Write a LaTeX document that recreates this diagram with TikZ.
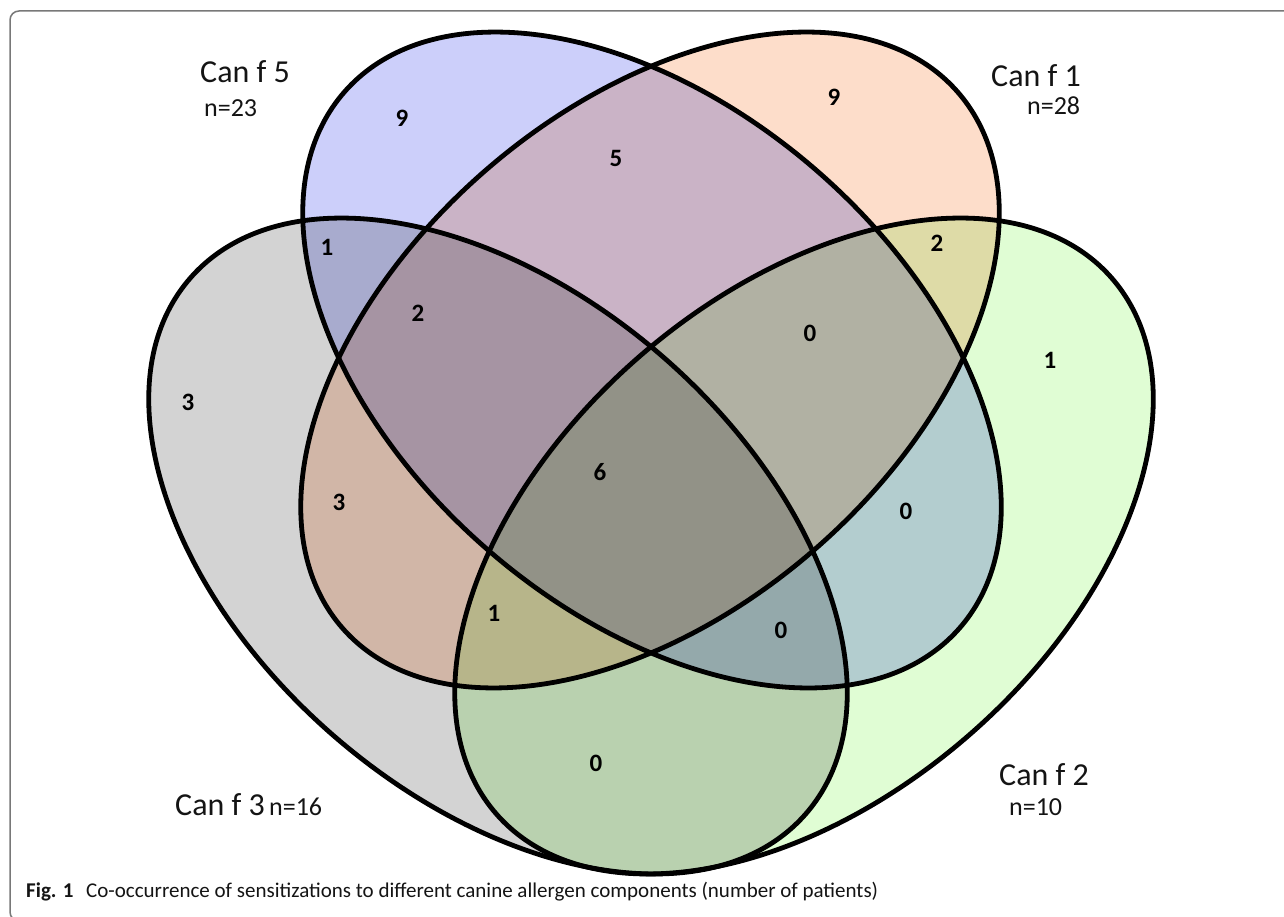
\documentclass[tikz,border=0pt]{standalone}
\usepackage{fontspec}
\setmainfont{Carlito}
\newfontfamily\capfont{Carlito}
\usepackage{graphicx}
\definecolor{fblue}{RGB}{204,207,250}
\definecolor{forange}{RGB}{253,221,202}
\definecolor{fgrey}{RGB}{211,211,211}
\definecolor{fgreen}{RGB}{224,253,212}
\definecolor{framegray}{RGB}{120,120,120}
\definecolor{txt}{RGB}{20,20,20}
\begin{document}
\begin{tikzpicture}[x=1pt,y=-1pt,
  setfill/.style={blend mode=multiply},
  outline/.style={draw=black,line width=4.8pt},
  lab/.style={font=\fontsize{32}{32}\selectfont, anchor=base west, inner sep=0pt, text=txt},
  nlab/.style={font=\fontsize{26}{26}\selectfont, anchor=base west, inner sep=0pt, text=txt},
  num/.style={font=\bfseries\fontsize{25}{25}\selectfont, inner sep=0pt, text=black}]
\useasboundingbox (0,0) rectangle (1284,917);
\clip (0,0) rectangle (1284,917);
\fill[white] (0,0) rectangle (1284,917);
\draw[framegray, line width=1.5pt, rounded corners=9pt] (10,11) rectangle (1300,921);
% centres of the four sets
\coordinate (c5) at (652,360);
\coordinate (c1) at (650,360);
\coordinate (c3) at (498,546);
\coordinate (c2) at (804,546);
% fills
\fill[fgrey, setfill, rotate around={-41:(c3)}] (c3) ellipse [x radius=408pt, y radius=251pt];
\fill[fgreen, setfill, rotate around={41:(c2)}] (c2) ellipse [x radius=408pt, y radius=251pt];
\fill[fblue, setfill, rotate around={-41:(c5)}] (c5) ellipse [x radius=408pt, y radius=251pt];
\fill[forange, setfill, rotate around={41:(c1)}] (c1) ellipse [x radius=408pt, y radius=251pt];
% outlines
\draw[outline, rotate around={-41:(c3)}] (c3) ellipse [x radius=408pt, y radius=251pt];
\draw[outline, rotate around={41:(c2)}] (c2) ellipse [x radius=408pt, y radius=251pt];
\draw[outline, rotate around={-41:(c5)}] (c5) ellipse [x radius=408pt, y radius=251pt];
\draw[outline, rotate around={41:(c1)}] (c1) ellipse [x radius=408pt, y radius=251pt];
% set labels
\node[lab] (l5) at (200,83) {Can f 5};
\node[nlab] (n5) at (204,117) {n=23};
\node[lab] (l1) at (991,87) {Can f 1};
\node[nlab] (n1) at (1027,115) {n=28};
\node[lab] (l3) at (175,815) {Can f 3};
\node[nlab] (n3) at (269,815) {n=16};
\node[lab] (l2) at (999,785) {Can f 2};
\node[nlab] (n2) at (1009,815) {n=10};
% region counts
\node[num] (r5) at (402,118) {9};
\node[num] (r1) at (834,97) {9};
\node[num] (r51) at (616,158) {5};
\node[num] (r53) at (327,247) {1};
\node[num] (r12) at (937,243) {2};
\node[num] (r513) at (418,313) {2};
\node[num] (r512) at (810,333) {0};
\node[num] (r3) at (188,402) {3};
\node[num] (r2) at (1050,360) {1};
\node[num] (r13) at (339,502) {3};
\node[num] (rall) at (600,472) {6};
\node[num] (r52) at (906,511) {0};
\node[num] (r132) at (494,613) {1};
\node[num] (r532) at (781,630) {0};
\node[num] (r32) at (596,763) {0};
% caption
\node[anchor=base west, inner sep=0pt, text=txt] (cap) at (26,897) {\resizebox{852pt}{!}{\capfont\fontsize{19}{19}\selectfont\textbf{Fig. 1}\hspace{0.6em}Co-occurrence of sensitizations to different canine allergen components (number of patients)}};
\end{tikzpicture}
\end{document}
